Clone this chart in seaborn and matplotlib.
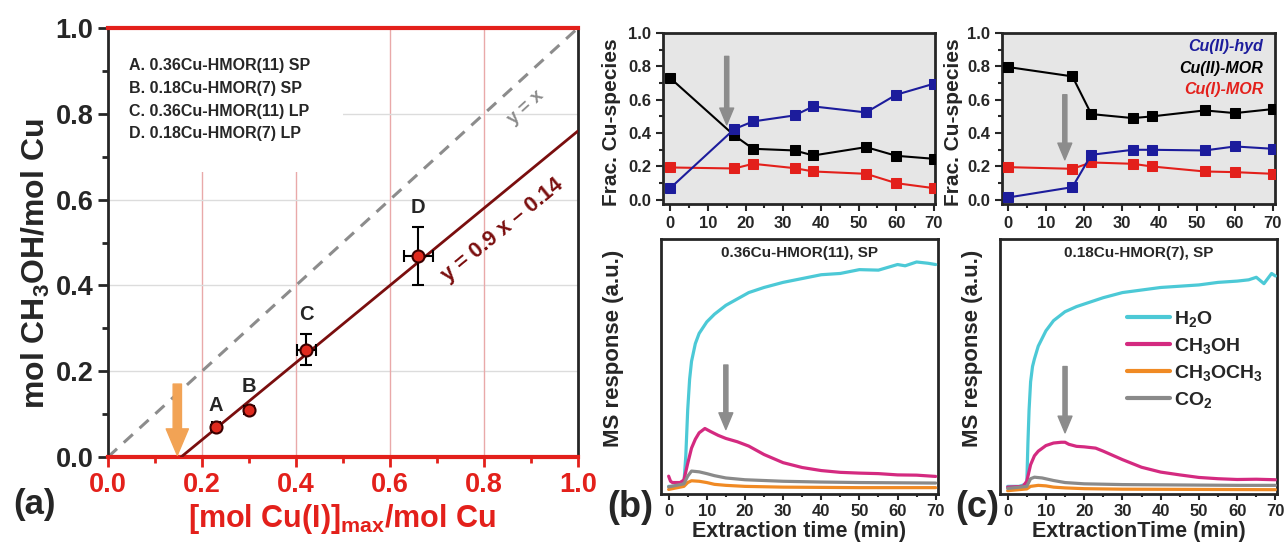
import numpy as np
import matplotlib
matplotlib.use("Agg")
import matplotlib.pyplot as plt
from matplotlib.patches import Rectangle
from matplotlib.ticker import MultipleLocator
import seaborn as sns

# ---------------- panel (a): methanol yield vs max Cu(I)
sample_letters = ["A", "B", "C", "D"]
sample_names = ["A. 0.36Cu-HMOR(11) SP", "B. 0.18Cu-HMOR(7) SP",
                "C. 0.36Cu-HMOR(11) LP", "D. 0.18Cu-HMOR(7) LP"]
cu1_max = [0.23, 0.30, 0.422, 0.66]
meoh_yield = [0.069, 0.11, 0.25, 0.469]
cu1_err = [0.008, 0.0, 0.02, 0.031]
meoh_err = [0.005, 0.01, 0.036, 0.067]
fit_slope = 0.9
fit_intercept = -0.14
onset_x = 0.1475

# ---------------- top panels: fraction of Cu species (XAS)
frac_time = [0, 17, 22, 33, 38, 52, 60, 70]
b_hyd = [0.07, 0.424, 0.47, 0.506, 0.56, 0.524, 0.63, 0.696]
b_mor2 = [0.73, 0.386, 0.306, 0.296, 0.266, 0.316, 0.264, 0.246]
b_mor1 = [0.194, 0.188, 0.216, 0.19, 0.17, 0.156, 0.10, 0.07]
c_hyd = [0.014, 0.076, 0.27, 0.30, 0.30, 0.296, 0.32, 0.306]
c_mor2 = [0.796, 0.74, 0.514, 0.49, 0.50, 0.536, 0.52, 0.544]
c_mor1 = [0.196, 0.186, 0.224, 0.216, 0.20, 0.17, 0.166, 0.156]
species_names = ["Cu(II)-hyd", "Cu(II)-MOR", "Cu(I)-MOR"]

# ---------------- bottom panels: MS response (a.u.)
b_h2o_t = [0, 3, 4, 4.5, 5, 5.5, 6, 7, 8, 10, 12, 15, 18, 21, 25, 30, 35, 40, 45, 50, 55, 60, 62, 65, 68, 70]
b_h2o = [0.03, 0.03, 0.04, 0.15, 0.33, 0.45, 0.52, 0.59, 0.63, 0.675, 0.705, 0.74, 0.765, 0.79, 0.81, 0.83,
         0.845, 0.86, 0.865, 0.88, 0.878, 0.9, 0.895, 0.91, 0.905, 0.9]
b_meoh_t = [0, 0.5, 1, 3, 4, 5, 6, 7, 8, 9.5, 11, 13, 15, 18, 21, 25, 30, 35, 40, 45, 50, 55, 60, 65, 70]
b_meoh = [0.07, 0.05, 0.045, 0.045, 0.055, 0.12, 0.18, 0.215, 0.24, 0.257, 0.245, 0.23, 0.218, 0.205, 0.188,
          0.155, 0.123, 0.104, 0.092, 0.085, 0.082, 0.08, 0.075, 0.074, 0.069]
b_co2_t = [0, 4, 5, 6, 8, 10, 12, 15, 20, 30, 40, 50, 60, 70]
b_co2 = [0.028, 0.04, 0.07, 0.09, 0.087, 0.08, 0.072, 0.063, 0.056, 0.05, 0.047, 0.045, 0.044, 0.043]
b_dme_t = [0, 4, 5, 6, 8, 10, 12, 15, 20, 30, 40, 50, 60, 70]
b_dme = [0.018, 0.03, 0.045, 0.052, 0.05, 0.045, 0.038, 0.034, 0.03, 0.027, 0.026, 0.025, 0.025, 0.025]

c_h2o_t = [0, 3, 5, 5.3, 5.6, 6, 6.5, 7, 8, 10, 12, 15, 18, 20, 25, 30, 35, 40, 45, 50, 55, 60, 63, 65, 67, 69, 70]
c_h2o = [0.03, 0.03, 0.04, 0.2, 0.33, 0.44, 0.5, 0.53, 0.58, 0.64, 0.68, 0.715, 0.735, 0.745, 0.77, 0.79,
         0.8, 0.81, 0.815, 0.82, 0.83, 0.835, 0.84, 0.85, 0.825, 0.865, 0.855]
c_meoh_t = [0, 4, 5, 6, 7, 8, 10, 12, 14, 15, 16, 18, 20, 23, 25, 30, 35, 40, 45, 50, 55, 60, 65, 70]
c_meoh = [0.027, 0.03, 0.05, 0.115, 0.15, 0.168, 0.19, 0.2, 0.203, 0.203, 0.195, 0.187, 0.185, 0.18, 0.168,
          0.135, 0.105, 0.086, 0.075, 0.065, 0.06, 0.057, 0.058, 0.056]
c_co2_t = [0, 5, 6, 7, 9, 12, 15, 20, 30, 40, 50, 60, 70]
c_co2 = [0.022, 0.03, 0.06, 0.066, 0.063, 0.053, 0.045, 0.04, 0.037, 0.036, 0.035, 0.034, 0.034]
c_dme_t = [0, 5, 6, 8, 10, 12, 15, 20, 30, 50, 70]
c_dme = [0.013, 0.02, 0.03, 0.034, 0.032, 0.027, 0.024, 0.021, 0.019, 0.018, 0.017]

ms_names = ["H$_2$O", "CH$_3$OH", "CH$_3$OCH$_3$", "CO$_2$"]
ms_colors = ["#4CC9D6", "#D42A80", "#F08A24", "#8A8A8A"]

# ---------------- style
sns.set_style("ticks")
plt.rcParams["font.family"] = ["Liberation Sans", "DejaVu Sans"]
plt.rcParams["font.weight"] = "bold"
plt.rcParams["axes.labelweight"] = "bold"
plt.rcParams["mathtext.fontset"] = "custom"
plt.rcParams["mathtext.rm"] = "Liberation Sans:bold"
plt.rcParams["mathtext.bf"] = "Liberation Sans:bold"
plt.rcParams["mathtext.it"] = "Liberation Sans:bold:italic"
plt.rcParams["mathtext.default"] = "bf"

RED = "#E3201B"
fig = plt.figure(figsize=(12.87, 5.43), dpi=100)

# ================= panel (a)
ax = fig.add_axes([0.0839, 0.1584, 0.3652, 0.790])
ax.set_xlim(0, 1)
ax.set_ylim(0, 1)
for g in [0.2, 0.4, 0.6, 0.8]:
    ax.axhline(g, color="#DCDCDC", lw=1, zorder=0.5)
    ax.axvline(g, color="#E9A9A9", lw=1, zorder=0.5)
ax.add_patch(Rectangle((0, 0.665), 0.5, 0.335, facecolor="white", edgecolor="none", zorder=0.8))

sns.lineplot(x=[0, 1], y=[0, 1], ax=ax, color="#8C8C8C", lw=2.2, linestyle=(0, (4, 3)), zorder=2)
fit_x = np.array([-fit_intercept / fit_slope, 1.0])
sns.lineplot(x=fit_x, y=fit_slope * fit_x + fit_intercept, ax=ax, color="#7A0E0E", lw=2, zorder=3)
ax.errorbar(cu1_max, meoh_yield, xerr=cu1_err, yerr=meoh_err, fmt="none",
            ecolor="black", elinewidth=1.5, capsize=4, capthick=1.5, zorder=4)
sns.scatterplot(x=cu1_max, y=meoh_yield, ax=ax, color="#E02A1E", edgecolor="#3A0000",
                s=75, linewidth=1.5, zorder=5)
for lx, ly, le, lt in zip(cu1_max, meoh_yield, meoh_err, sample_letters):
    ax.text(lx, ly + le + 0.045, lt, ha="center", va="center", fontsize=14.5, zorder=6)
ax.text(0.045, 0.93, "\n".join(sample_names), ha="left", va="top", fontsize=11.5,
        linespacing=1.65, zorder=6)

ax.annotate("", xy=(onset_x, 0.004), xytext=(onset_x, 0.17),
            arrowprops=dict(width=6, headwidth=16, headlength=19, color="#F2A355", shrink=0), zorder=6)


def screen_angle(a, slope):
    p = a.transData.transform([[0, 0], [1, slope]])
    return np.degrees(np.arctan2(p[1, 1] - p[0, 1], p[1, 0] - p[0, 0]))


ax.text(0.889, 0.815, "y = x", color="#8C8C8C", fontsize=13.5, ha="center", va="center",
        rotation=screen_angle(ax, 1.0), rotation_mode="anchor")
ax.text(0.84, 0.528, "y = 0.9 x \u2013 0.14", color="#7A0E0E", fontsize=15.5, ha="center", va="center",
        rotation=screen_angle(ax, fit_slope), rotation_mode="anchor")

ax.spines["top"].set_color(RED)
ax.spines["bottom"].set_color(RED)
ax.spines["top"].set_linewidth(3)
ax.spines["bottom"].set_linewidth(3)
ax.spines["left"].set_linewidth(2)
ax.spines["right"].set_linewidth(2)
ax.xaxis.set_major_locator(MultipleLocator(0.2))
ax.xaxis.set_minor_locator(MultipleLocator(0.1))
ax.yaxis.set_major_locator(MultipleLocator(0.2))
ax.yaxis.set_minor_locator(MultipleLocator(0.1))
ax.tick_params(axis="x", which="both", colors=RED, direction="out", width=2, labelsize=19.5)
ax.tick_params(axis="x", which="major", length=7)
ax.tick_params(axis="x", which="minor", length=4)
ax.tick_params(axis="y", which="both", direction="out", width=2, labelsize=19.5)
ax.tick_params(axis="y", which="major", length=7)
ax.tick_params(axis="y", which="minor", length=4)
ax.set_xticklabels([f"{v:.1f}" for v in ax.get_xticks()], color=RED)
ax.set_yticklabels([f"{v:.1f}" for v in ax.get_yticks()])
ax.set_xlabel("[mol Cu(I)]$_{max}$/mol Cu", color=RED, fontsize=22)
ax.set_ylabel("mol CH$_3$OH/mol Cu", fontsize=23)
ax.xaxis.set_label_coords(0.498, -0.105)
ax.yaxis.set_label_coords(-0.12, 0.45)
fig.text(0.027, 0.07, "(a)", fontsize=25, ha="center", va="center")

# ================= top panels (fractions)
top_specs = [
    ([0.5152, 0.6243, 0.2113, 0.3149], (-1.9, 70.3), b_hyd, b_mor2, b_mor1, (0.86, 0.45), -0.154),
    ([0.7786, 0.6243, 0.2121, 0.3149], (-1.6, 70.6), c_hyd, c_mor2, c_mor1, (0.63, 0.24), -0.143),
]
top_axes = []
for pos, xl, hyd, mor2, mor1, arr, ylx in top_specs:
    a = fig.add_axes(pos)
    a.set_facecolor("#E6E6E6")
    for vals, col in zip([mor1, mor2, hyd], [RED, "black", "#1C1C9C"]):
        sns.lineplot(x=frac_time, y=vals, ax=a, color=col, lw=1.5, marker="s", markersize=6.5,
                     markeredgecolor=col, zorder=3)
    a.annotate("", xy=(15, arr[1]), xytext=(15, arr[0]),
               arrowprops=dict(width=3, headwidth=10, headlength=12, color="#8C8C8C", shrink=0), zorder=4)
    a.set_xlim(*xl)
    a.set_ylim(-0.025, 1.0)
    a.xaxis.set_major_locator(MultipleLocator(10))
    a.xaxis.set_minor_locator(MultipleLocator(5))
    a.yaxis.set_major_locator(MultipleLocator(0.2))
    a.yaxis.set_minor_locator(MultipleLocator(0.1))
    a.tick_params(which="both", direction="out", width=1.5, labelsize=12)
    a.tick_params(which="major", length=5)
    a.tick_params(which="minor", length=3)
    for s in a.spines.values():
        s.set_linewidth(2)
    a.set_ylabel("Frac. Cu-species", fontsize=15)
    a.yaxis.set_label_coords(ylx, 0.48)
    a.set_xlabel("")
    top_axes.append(a)

for txt, col, yy in zip(species_names, ["#1C1C9C", "black", RED], [0.92, 0.79, 0.664]):
    top_axes[1].text(67.5, yy, txt, color=col, fontsize=11.5, style="italic", ha="right", va="center")

# ================= bottom panels (MS)
bottom_specs = [
    ([0.5136, 0.0902, 0.2152, 0.4696], (-2.0, 70.6), "0.36Cu-HMOR(11), SP", "Extraction time (min)",
     [(b_h2o_t, b_h2o), (b_meoh_t, b_meoh), (b_dme_t, b_dme), (b_co2_t, b_co2)], (0.506, 0.253), -0.134),
    ([0.777, 0.0902, 0.2152, 0.4696], (-2.0, 70.4), "0.18Cu-HMOR(7), SP", "ExtractionTime (min)",
     [(c_h2o_t, c_h2o), (c_meoh_t, c_meoh), (c_dme_t, c_dme), (c_co2_t, c_co2)], (0.5, 0.24), -0.061),
]
bottom_axes = []
for pos, xl, title, xlab, curves, arr, ylx in bottom_specs:
    a = fig.add_axes(pos)
    order = [2, 3, 1, 0]
    for i in order:
        t, v = curves[i]
        sns.lineplot(x=t, y=v, ax=a, color=ms_colors[i], lw=2.3, label=ms_names[i], zorder=3 + i * 0.1)
    a.annotate("", xy=(15, arr[1]), xytext=(15, arr[0]),
               arrowprops=dict(width=3, headwidth=10, headlength=12, color="#8C8C8C", shrink=0), zorder=4)
    a.set_xlim(*xl)
    a.set_ylim(0, 1)
    a.set_yticks([])
    a.xaxis.set_major_locator(MultipleLocator(10))
    a.xaxis.set_minor_locator(MultipleLocator(5))
    a.tick_params(which="both", direction="out", width=1.5, labelsize=12)
    a.tick_params(which="major", length=4)
    a.tick_params(which="minor", length=2.5)
    for s in a.spines.values():
        s.set_linewidth(2)
    a.text(0.5, 0.945, title, transform=a.transAxes, ha="center", va="center", fontsize=11)
    a.set_xlabel(xlab, fontsize=15.5)
    a.xaxis.set_label_coords(0.5, -0.105)
    a.set_ylabel("MS response (a.u.)", fontsize=16)
    a.yaxis.set_label_coords(ylx, 0.57)
    a.get_legend().remove()
    bottom_axes.append(a)

handles, labels = bottom_axes[1].get_legend_handles_labels()
hl = dict(zip(labels, handles))
bottom_axes[1].legend([hl[n] for n in ms_names], ms_names, loc="upper left",
                      bbox_to_anchor=(31.3, 0.725), bbox_transform=bottom_axes[1].transData,
                      frameon=False, fontsize=14, handlelength=2.2, handletextpad=0.2,
                      labelspacing=0.35, borderaxespad=0, borderpad=0)
for lh in bottom_axes[1].get_legend().get_lines():
    lh.set_linewidth(3)

fig.text(0.4895, 0.066, "(b)", fontsize=26, ha="center", va="center")
fig.text(0.759, 0.066, "(c)", fontsize=26, ha="center", va="center")

fig.savefig("out.png", dpi=100)
print("saved out.png")
